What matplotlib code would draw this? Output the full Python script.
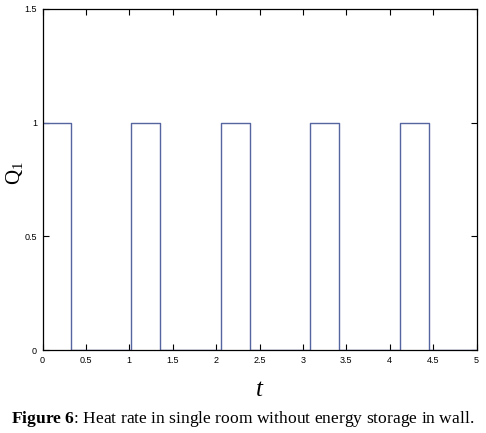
import matplotlib
matplotlib.use("Agg")
import matplotlib.pyplot as plt

plt.rcParams["mathtext.fontset"] = "custom"
plt.rcParams["mathtext.rm"] = "Liberation Serif"
plt.rcParams["mathtext.it"] = "Liberation Serif:italic"
plt.rcParams["mathtext.bf"] = "Liberation Serif:bold"

# switching times and heat-rate level after each switch
t_switch = [0.0, 0.323, 1.024, 1.355, 2.055, 2.387, 3.087, 3.420, 4.115, 4.453, 5.0]
q_level = [1, 0, 1, 0, 1, 0, 1, 0, 1, 0, 0]

x_ticks = [0, 0.5, 1, 1.5, 2, 2.5, 3, 3.5, 4, 4.5, 5]
x_tick_labels = ["0", "0.5", "1", "1.5", "2", "2.5", "3", "3.5", "4", "4.5", "5"]
y_ticks = [0, 0.5, 1, 1.5]
y_tick_labels = ["0", "0.5", "1", "1.5"]

fig = plt.figure(figsize=(4.86, 4.33), dpi=100)
ax = fig.add_axes([0.0875, 0.1915, 0.893, 0.788])

ax.step(t_switch, q_level, where="post", color="#5565a0", linewidth=1.0)

ax.set_xlim(0, 5)
ax.set_ylim(0, 1.5)
ax.set_xticks(x_ticks)
ax.set_xticklabels(x_tick_labels)
ax.set_yticks(y_ticks)
ax.set_yticklabels(y_tick_labels)
ax.tick_params(direction="in", length=4, width=0.8, labelsize=6.5,
               top=True, right=True, pad=4, colors="black")
for lbl in ax.get_xticklabels() + ax.get_yticklabels():
    lbl.set_family("Liberation Sans")
for s in ax.spines.values():
    s.set_linewidth(0.9)

ax.set_xlabel("$t$", fontsize=18)
ax.xaxis.set_label_coords(0.5, -0.08)
ax.set_ylabel(r"$\mathrm{Q}_1$", fontsize=15)
ax.yaxis.set_label_coords(-0.04, 0.52)

fig.text(0.022, 0.022, r"$\mathbf{Figure\ 6}$: Heat rate in single room without energy storage in wall.",
         fontsize=12.6, family="Liberation Serif", ha="left", va="baseline")

fig.savefig("out.png", dpi=100)
